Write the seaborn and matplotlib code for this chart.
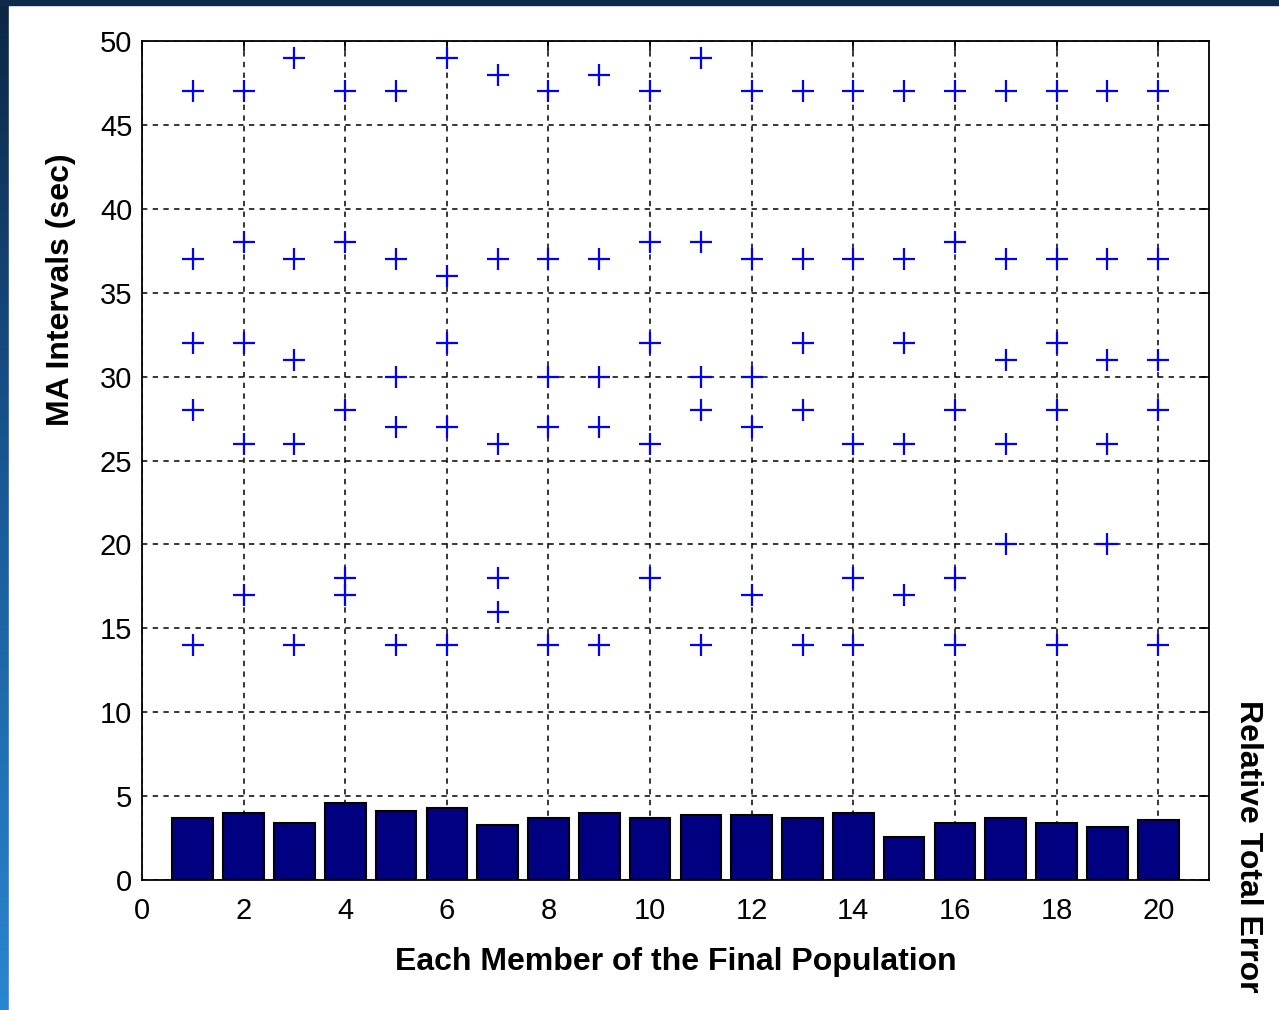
import numpy as np
import pandas as pd
import matplotlib
matplotlib.use("Agg")
import matplotlib.pyplot as plt
import seaborn as sns

# members of the final population
members = list(range(1, 21))

# MA interval values (sec) for each member
intervals = [
    [47, 37, 32, 28, 14],
    [47, 38, 32, 26, 17],
    [49, 37, 31, 26, 14],
    [47, 38, 28, 18, 17],
    [47, 37, 30, 27, 14],
    [49, 36, 32, 27, 14],
    [48, 37, 26, 18, 16],
    [47, 37, 30, 27, 14],
    [48, 37, 30, 27, 14],
    [47, 38, 32, 26, 18],
    [49, 38, 30, 28, 14],
    [47, 37, 30, 27, 17],
    [47, 37, 32, 28, 14],
    [47, 37, 26, 18, 14],
    [47, 37, 32, 26, 17],
    [47, 38, 28, 18, 14],
    [47, 37, 31, 26, 20],
    [47, 37, 32, 28, 14],
    [47, 37, 31, 26, 20],
    [47, 37, 31, 28, 14],
]

# relative total error per member
rel_error = [3.68, 3.99, 3.41, 4.57, 4.13, 4.28, 3.29, 3.68, 3.99, 3.68,
             3.88, 3.88, 3.68, 3.99, 2.56, 3.41, 3.68, 3.41, 3.14, 3.57]

x_ticks = list(range(0, 21, 2))
y_ticks = list(range(0, 51, 5))

pts = pd.DataFrame(
    [(m, v) for m, vals in zip(members, intervals) for v in vals],
    columns=["member", "interval"],
)
bars = pd.DataFrame({"member": members, "error": rel_error})

sns.set_style("white")
plt.rcParams["font.family"] = ["Liberation Sans", "DejaVu Sans"]
plt.rcParams["text.color"] = "black"
plt.rcParams["axes.labelcolor"] = "black"
plt.rcParams["xtick.color"] = "black"
plt.rcParams["ytick.color"] = "black"

fig = plt.figure(figsize=(12.79, 10.10), dpi=100, facecolor="white")

# dark frame strips (window border of the original screenshot)
bg = fig.add_axes([0, 0, 1, 1], zorder=-10)
grad = np.linspace(0, 1, 256).reshape(-1, 1)
bg.imshow(grad, aspect="auto", extent=[0, 1, 0, 1],
          cmap=matplotlib.colors.LinearSegmentedColormap.from_list(
              "edge", ["#0c2643", "#1a5a98", "#2a86d0"]))
bg.add_patch(plt.Rectangle((9 / 1279, 0), 1, 1 - 5 / 1010,
                           color="white", transform=bg.transAxes))
bg.add_patch(plt.Rectangle((0, 1 - 5 / 1010), 1, 5 / 1010,
                           color="#0e2a48", transform=bg.transAxes))
bg.set_axis_off()

ax = fig.add_axes([142 / 1279, 1 - 880 / 1010, (1209 - 142) / 1279, (880 - 41) / 1010])

sns.barplot(data=bars, x="member", y="error", native_scale=True, width=0.8,
            color="#000080", edgecolor="black", linewidth=1.5,
            saturation=1, ax=ax, zorder=2)
sns.scatterplot(data=pts, x="member", y="interval", marker="+", s=240,
                color="#0000ff", linewidth=1.6, ax=ax, zorder=3, legend=False)

ax.set_xlim(0, 21)
ax.set_ylim(0, 50)
ax.set_xticks(x_ticks)
ax.set_yticks(y_ticks)
ax.set_axisbelow(True)
ax.grid(True, color="black", linestyle=(0, (3.5, 3.5)), linewidth=1.1)
ax.tick_params(direction="in", length=7, width=1.2, top=True, right=True,
               labelsize=21)
ax.tick_params(axis="x", pad=12)
ax.tick_params(axis="y", pad=7)
for sp in ax.spines.values():
    sp.set_color("black")
    sp.set_linewidth(1.3)

ax.set_xlabel("Each Member of the Final Population", fontsize=23,
              fontweight="bold", labelpad=16)
ax.set_ylabel("MA Intervals (sec)", fontsize=23, fontweight="bold")
ax.yaxis.set_label_coords(-0.062, 0.703)
fig.text(1248 / 1279, 1 - 846 / 1010, "Relative Total Error", rotation=270,
         fontsize=23, fontweight="bold", ha="center", va="center")

fig.savefig("out.png", dpi=100, facecolor=fig.get_facecolor())
